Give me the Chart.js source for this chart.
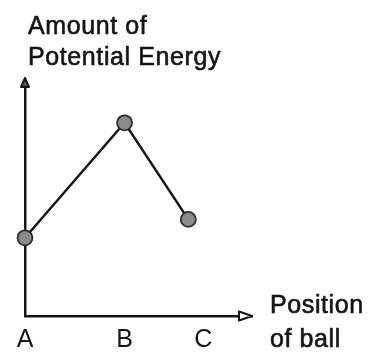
<!DOCTYPE html>
<html>
<head>
<meta charset="utf-8">
<script src="https://cdn.jsdelivr.net/npm/chart.js@4.4.0/dist/chart.umd.min.js"></script>
<style>
  html, body { margin: 0; padding: 0; background: #fff; }
  #wrap { width: 368px; height: 352px; }
</style>
</head>
<body>
<div id="wrap"><canvas id="energyChart" width="368" height="352"></canvas></div>
<script>
// ball positions along the track and the potential energy at each one
const positionLabels = ["A", "B", "C"];
const positionValues = [0, 1, 1.64];
const energyValues = [3.4, 8.4, 4.2];
// where the letters sit under the x axis
const tickValues = [0, 1, 1.79];
const yAxisTitle = ["Amount of", "Potential Energy"];
const xAxisTitle = ["Position", "of ball"];

const ink = "#151515";
const fontFamily = "'Liberation Sans', Arial, sans-serif";

// captions are drawn a touch heavier, like marker on paper
function inkText(ctx, text, x, y) {
  ctx.fillText(text, x, y);
  ctx.strokeText(text, x, y);
}

// arrow heads on both axes plus the hand-placed axis captions
const axisDecor = {
  id: "axisDecor",
  afterDraw(chart) {
    const { ctx, chartArea } = chart;
    const x0 = chartArea.left;
    const y0 = chartArea.bottom;
    ctx.save();
    ctx.strokeStyle = ink;
    ctx.lineWidth = 2;
    ctx.lineJoin = "round";

    // up arrow on the energy axis
    ctx.beginPath();
    ctx.moveTo(x0, chartArea.top - 8);
    ctx.lineTo(x0 - 4, chartArea.top + 1);
    ctx.lineTo(x0 + 4, chartArea.top + 1);
    ctx.closePath();
    ctx.fillStyle = "#555";
    ctx.fill();
    ctx.stroke();

    // right arrow on the position axis
    const xr = chartArea.right;
    ctx.beginPath();
    ctx.moveTo(xr, y0);
    ctx.lineTo(xr - 13, y0 - 4.5);
    ctx.lineTo(xr - 13, y0 + 4.5);
    ctx.closePath();
    ctx.fillStyle = "#fff";
    ctx.fill();
    ctx.stroke();

    ctx.fillStyle = ink;
    ctx.lineWidth = 0.6;
    ctx.textBaseline = "alphabetic";
    ctx.font = "25px " + fontFamily;
    ctx.letterSpacing = "0.6px";
    inkText(ctx, yAxisTitle[0], 28, 34);
    inkText(ctx, yAxisTitle[1], 28, 65);
    inkText(ctx, xAxisTitle[0], 270, 313);
    inkText(ctx, xAxisTitle[1], 270, 347);
    ctx.restore();
  }
};

const energyChart = new Chart(document.getElementById("energyChart"), {
  type: "line",
  data: {
    datasets: [
      {
        label: "Potential energy",
        data: positionValues.map((x, i) => ({ x: x, y: energyValues[i] })),
        borderColor: ink,
        borderWidth: 2.5,
        pointRadius: 7.5,
        pointBackgroundColor: "#8a8a8a",
        pointBorderColor: "#2e2e2e",
        pointBorderWidth: 1.8,
        tension: 0,
        clip: false,
      },
    ],
  },
  options: {
    responsive: false,
    animation: false,
    layout: {
      padding: { left: 25, top: 86, right: 116, bottom: 0 },
    },
    plugins: {
      legend: { display: false },
      tooltip: { enabled: false },
    },
    scales: {
      x: {
        type: "linear",
        min: 0,
        max: 2.28,
        grid: { display: false, drawTicks: false },
        border: { display: true, color: ink, width: 2.5 },
        afterBuildTicks: (scale) => {
          scale.ticks = tickValues.map((v) => ({ value: v }));
        },
        afterFit: (scale) => {
          scale.height = 36;
        },
        ticks: {
          autoSkip: false,
          maxRotation: 0,
          padding: 9,
          color: ink,
          font: { family: fontFamily, size: 25 },
          callback: (value, index) => positionLabels[index],
        },
      },
      y: {
        min: 0,
        max: 10,
        grid: { display: false, drawTicks: false },
        border: { display: true, color: ink, width: 2.5 },
        ticks: { display: false },
        afterFit: (scale) => {
          scale.width = 0;
        },
      },
    },
  },
  plugins: [axisDecor],
});
</script>
</body>
</html>
